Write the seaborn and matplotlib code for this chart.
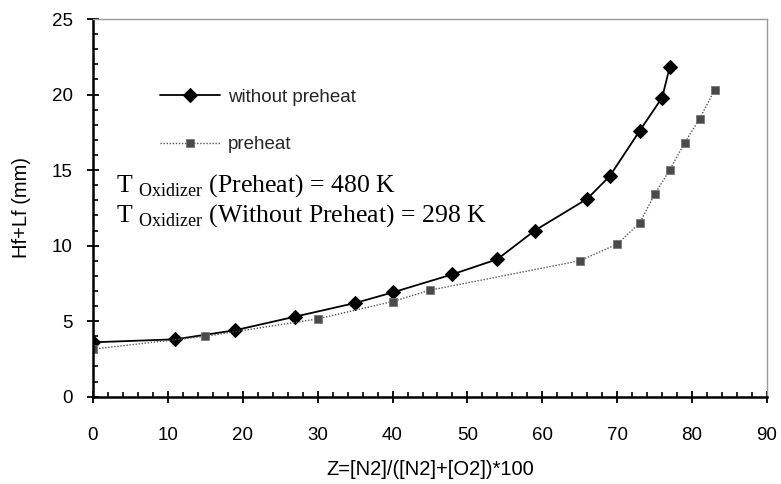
import matplotlib
matplotlib.use("Agg")
import matplotlib.pyplot as plt
import seaborn as sns
import pandas as pd
from matplotlib.ticker import MultipleLocator

# Data
z_without = [0, 11, 19, 27, 35, 40, 48, 54, 59, 66, 69, 73, 76, 77]
h_without = [3.6, 3.8, 4.4, 5.3, 6.2, 6.9, 8.1, 9.1, 11.0, 13.1, 14.6, 17.6, 19.8, 21.8]
z_preheat = [0, 15, 30, 40, 45, 65, 70, 73, 75, 77, 79, 81, 83]
h_preheat = [3.15, 4.0, 5.15, 6.3, 7.05, 9.0, 10.1, 11.5, 13.4, 15.0, 16.8, 18.4, 20.3]
label_without = "without preheat"
label_preheat = "preheat"
x_label = "Z=[N2]/([N2]+[O2])*100"
y_label = "Hf+Lf (mm)"
annot_lines = ["(Preheat) = 480 K", "(Without Preheat) = 298 K"]

sns.set_theme(style="white")
plt.rcParams['font.family'] = ['Liberation Sans', 'DejaVu Sans']

df_w = pd.DataFrame({"z": z_without, "h": h_without})
df_p = pd.DataFrame({"z": z_preheat, "h": h_preheat})

fig = plt.figure(figsize=(7.81, 4.84), dpi=100)
ax = fig.add_axes([93/781, 1-396.7/484, (767-93)/781, (396.7-19)/484])

sns.lineplot(data=df_w, x="z", y="h", ax=ax, color="black", linewidth=1.3,
             marker="D", markersize=7.5, markeredgecolor="black",
             markerfacecolor="black", label=label_without, sort=False)
sns.lineplot(data=df_p, x="z", y="h", ax=ax, color="#555555", linewidth=1.0,
             linestyle=(0, (1, 1.2)), marker="s", markersize=6,
             markerfacecolor="#4a4a4a", markeredgecolor="#777777",
             markeredgewidth=0.6, label=label_preheat, sort=False)

ax.set_xlim(0, 90)
ax.set_ylim(0, 25)
ax.xaxis.set_major_locator(MultipleLocator(10))
ax.xaxis.set_minor_locator(MultipleLocator(2))
ax.yaxis.set_major_locator(MultipleLocator(5))
ax.yaxis.set_minor_locator(MultipleLocator(1))
ax.tick_params(which="major", direction="inout", length=9, width=1.3,
               color="black", labelsize=13.5, labelcolor="black")
ax.tick_params(which="minor", direction="in", length=3.5, width=1.2, color="black")
ax.tick_params(axis="x", which="both", bottom=True, top=False)
ax.tick_params(axis="x", which="major", pad=17)
ax.tick_params(axis="y", which="both", left=True, right=False)
ax.tick_params(axis="y", which="major", pad=10)

for side in ["left", "bottom"]:
    ax.spines[side].set_color("black")
    ax.spines[side].set_linewidth(1.8)
for side in ["top", "right"]:
    ax.spines[side].set_color("#9a9a9a")
    ax.spines[side].set_linewidth(1.0)

ax.set_xlabel(x_label, fontsize=14.5, color="black", labelpad=12)
ax.set_ylabel(y_label, fontsize=14.5, color="black", labelpad=15)

leg = ax.legend(loc="upper left", bbox_to_anchor=(0.088, 0.836), frameon=False,
                fontsize=13.5, handlelength=3.2, handletextpad=0.43,
                labelspacing=1.62, borderaxespad=0)

serif = ['Liberation Serif', 'DejaVu Serif']
baselines = [13.58, 11.59]
for txt, yb in zip(annot_lines, baselines):
    ax.text(3.07, yb, r"T $_{\mathregular{Oxidizer}}$ " + txt, fontsize=18.5,
            family=serif, color="black", va="baseline", ha="left")

fig.savefig("out.png", dpi=100)
